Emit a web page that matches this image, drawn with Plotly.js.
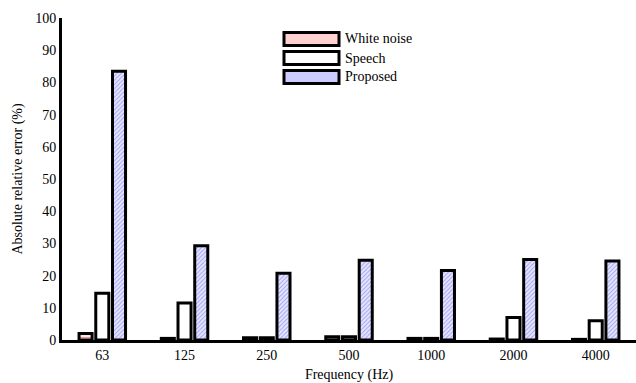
<!DOCTYPE html>
<html><head><meta charset="utf-8">
<script src="https://cdn.plot.ly/plotly-3.0.1.min.js"></script>
<style>html,body{margin:0;padding:0;background:#fff}#chart{width:636px;height:383px}</style>
</head><body><div id="chart"></div>
<script>
const categories = ["63","125","250","500","1000","2000","4000"];
const whiteNoise = [2.0, 0.5, 0.7, 1.0, 0.5, 0.3, 0.2];
const speech = [14.5, 11.5, 0.7, 1.0, 0.5, 7.0, 6.0];
const proposed = [83.5, 29.3, 20.7, 24.8, 21.6, 25.0, 24.5];
const yTicks = [0,10,20,30,40,50,60,70,80,90,100];

const idx = categories.map((c,i)=>i);
const font = {family:"Liberation Serif, Times New Roman, serif", size:14, color:"#000"};
const traces = [
  {type:"bar", name:"White noise", x:idx, y:whiteNoise,
   marker:{color:"#ffd6d6", line:{color:"#000", width:3},
     pattern:{shape:"-", fgcolor:"#f08a8a", bgcolor:"#ffe8e8", size:3, solidity:0.3}}},
  {type:"bar", name:"Speech", x:idx, y:speech,
   marker:{color:"#ffffff", line:{color:"#000", width:3}}},
  {type:"bar", name:"Proposed", x:idx, y:proposed,
   marker:{color:"#d0d0ff", line:{color:"#000", width:3},
     pattern:{shape:"/", fgcolor:"#9c9cf0", bgcolor:"#e6e6ff", size:3, solidity:0.3}}}
];
const W=636,H=383,ml=62,mr=0,mt=18,mb=43;
const pw=W-ml-mr, ph=H-mt-mb;
function px(x){return (x-ml)/pw;}
function py(y){return (H-mb-y)/ph;}
const legendNames=["White noise","Speech","Proposed"];
const legendFill=["#ffd0d0","#ffffff","#ccccff"];
const legendRows=[39,58,77];
const shapes=[], annotations=[];
legendNames.forEach((n,i)=>{
  const yc=legendRows[i];
  shapes.push({type:"rect", xref:"paper", yref:"paper",
    x0:px(284), x1:px(339), y0:py(yc+6.5), y1:py(yc-6.5),
    fillcolor:legendFill[i], line:{color:"#000", width:3}});
  annotations.push({xref:"paper", yref:"paper", x:px(343), y:py(yc), xanchor:"left", yanchor:"middle",
    text:n, showarrow:false, font:font});
});
const layout = {
  width:W, height:H, margin:{l:ml,r:mr,t:mt,b:mb},
  paper_bgcolor:"#fff", plot_bgcolor:"#fff",
  font:font, showlegend:false,
  barmode:"group", bargap:0.39, bargroupgap:0.22,
  xaxis:{range:[-0.49,6.49], tickvals:idx, ticktext:categories, showgrid:false, zeroline:false,
    showline:true, linecolor:"#000", linewidth:3, ticks:"", tickfont:font,
    title:{text:"Frequency (Hz)", font:font, standoff:8}},
  yaxis:{range:[0,100], tickvals:yTicks, showgrid:false, zeroline:false,
    showline:true, linecolor:"#000", linewidth:3, ticks:"", tickfont:font,
    title:{text:"Absolute relative error (%)", font:font, standoff:10}},
  shapes:shapes, annotations:annotations
};
Plotly.newPlot("chart", traces, layout, {displayModeBar:false, staticPlot:true});
</script></body></html>
